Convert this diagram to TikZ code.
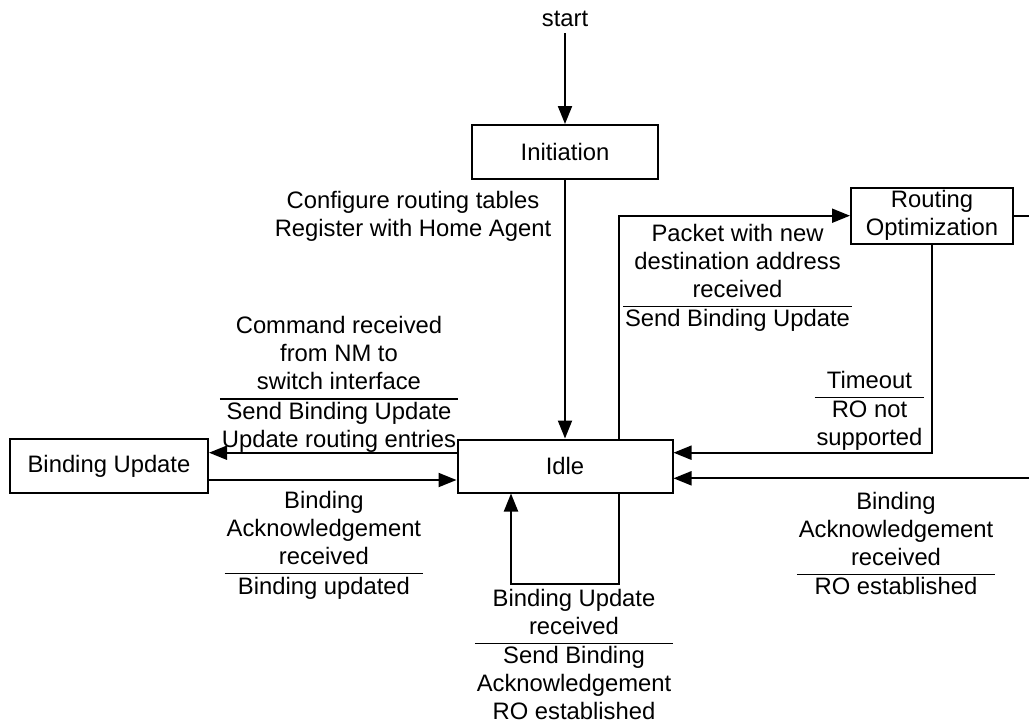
\documentclass[tikz,border=0pt]{standalone}
\usepackage{fontspec}
\setmainfont{Liberation Sans}
\usetikzlibrary{arrows.meta}
\setlength{\arrayrulewidth}{1.3pt}
% centred lines of text
\newcommand{\stack}[1]{\begin{tabular}{@{}c@{}}#1\end{tabular}}
% transition label: event above the bar, action below
\newcommand{\guard}[2]{\begin{tabular}{@{\hspace{2pt}}c@{\hspace{2pt}}}#1\\\hline#2\end{tabular}}

\begin{document}
\begin{tikzpicture}[x=1pt,y=-1pt,
  every node/.style={font=\fontsize{23.8}{28}\selectfont, inner sep=0pt},
  state/.style={draw, line width=2pt, minimum height=53pt},
  link/.style={line width=2pt, -{Triangle[length=18pt,width=14pt]}},
  ]
\path[use as bounding box, fill=white] (0,0) rectangle (1029,724);
\clip (0,0) rectangle (1029,724);

% states
\node (start) at (565,19.4) {start};
\node[state, minimum width=186pt, minimum height=54pt] (init) at (565,152) {Initiation};
\node[state, minimum width=215pt] (idle) at (565,466) {Idle};
\node[state, minimum width=198pt, minimum height=54pt] (bu) at (109,466) {Binding Update};
\node[state, minimum width=162pt] (ro) at (932,215.7) {\stack{Routing\\Optimization}};

% loose ends of the wrap-around connector (beyond the right border)
\coordinate (ne) at (1045,215.7);
\coordinate (se) at (1045,478.3);

% transitions
\draw[link, shorten <=6pt] (start.south) -- (init.north);
\draw[link] (init.south) -- (idle.north);
\draw[link] ([xshift=54pt]idle.north) |- (ro.west);
\draw[link] (ro.south) |- ([yshift=13.3pt]idle.east);
\draw[link] (ro.east) -- (ne) -- (se) -- (se -| idle.east);
\draw[link] ([yshift=13.3pt]idle.west) -- ([yshift=13.3pt]bu.east);
\draw[link] ([yshift=-14pt]bu.east) -- ([yshift=-14pt]idle.west);
\draw[link] ([xshift=54pt]idle.south) -- ++(0,90) -| ([xshift=-54pt]idle.south);

% transition labels
\node (linit) at (413,216.4) {\stack{Configure routing tables\\Register with Home Agent}};
\node (lpkt) at (737.5,278.3) {\guard{Packet with new\\destination address\\received}{Send Binding Update}};
\node (lcmd) at (339,384.9) {\guard{Command received\\from NM to\\switch interface}{Send Binding Update\\Update routing entries}};
\node (lback) at (323.9,545.8) {\guard{Binding\\Acknowledgement\\received}{Binding updated}};
\node (ltime) at (869.5,411.6) {\guard{Timeout}{RO not\\supported}};
\node (lroack) at (896,546.3) {\guard{Binding\\Acknowledgement\\received}{RO established}};
\node (lloop) at (574,657.4) {\guard{Binding Update\\received}{Send Binding\\Acknowledgement\\RO established}};
\end{tikzpicture}
\end{document}
